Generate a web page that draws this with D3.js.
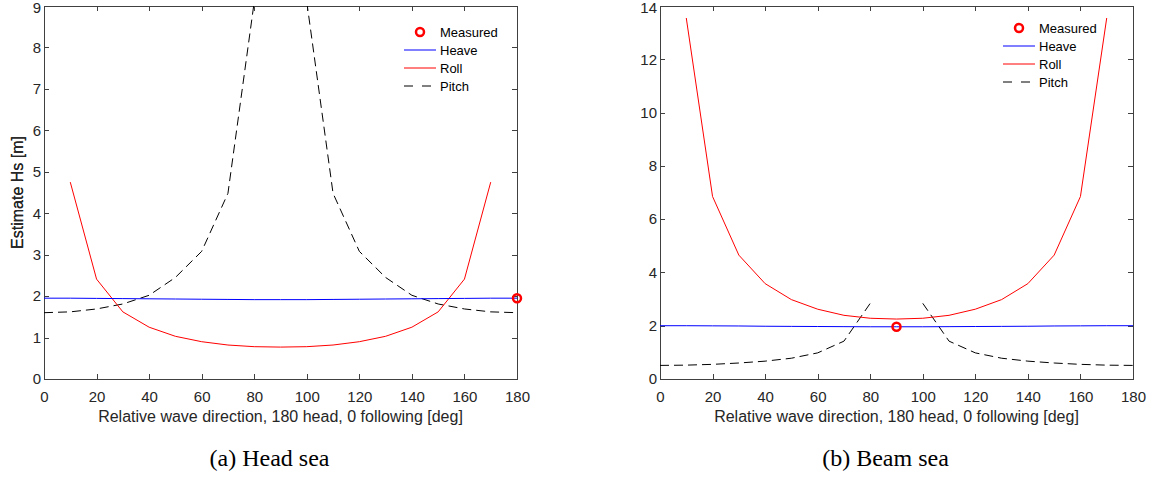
<!DOCTYPE html>
<meta charset="utf-8">
<style type="text/css">
body { margin: 0; background: #fff; }
.axis text { font-family: "Liberation Sans", Arial, sans-serif; font-size: 15px; fill: #262626; }
.axis path, .axis line { stroke: #404040; stroke-width: 1px; shape-rendering: crispEdges; }
.line { fill: none; stroke-width: 1px; }
.legend text { font-family: "Liberation Sans", Arial, sans-serif; font-size: 13px; fill: #000; }
.label { font-family: "Liberation Sans", Arial, sans-serif; font-size: 16px; fill: #262626; }
.caption { font-family: "Liberation Serif", "Times New Roman", serif; font-size: 24px; fill: #000; }
</style>
<body>
</body>
<script src="https://cdn.jsdelivr.net/npm/d3@7"></script>
<script>

// wave direction [deg]
var directions = [0, 10, 20, 30, 40, 50, 60, 70, 80, 90, 100, 110, 120, 130, 140, 150, 160, 170, 180];
var seriesNames = ["Measured", "Heave", "Roll", "Pitch"];

// (a) head sea
var headHeave = [1.95, 1.95, 1.945, 1.94, 1.935, 1.93, 1.925, 1.92, 1.915, 1.915, 1.915, 1.92, 1.925, 1.93, 1.935, 1.94, 1.945, 1.95, 1.95];
var headRoll  = [null, 4.75, 2.41, 1.62, 1.25, 1.03, 0.9, 0.82, 0.78, 0.77, 0.78, 0.82, 0.9, 1.03, 1.25, 1.62, 2.41, 4.75, null];
var headPitch = [1.6, 1.62, 1.69, 1.81, 2.02, 2.45, 3.08, 4.48, 9.1, null, 9.1, 4.48, 3.08, 2.45, 2.02, 1.81, 1.69, 1.62, 1.6];
var headMeasured = [{dir: 180, hs: 1.95}];
var headYTicks = [0, 1, 2, 3, 4, 5, 6, 7, 8, 9];

// (b) beam sea
var beamHeave = [2.0, 2.0, 1.995, 1.99, 1.98, 1.975, 1.97, 1.965, 1.96, 1.96, 1.96, 1.965, 1.97, 1.975, 1.98, 1.99, 1.995, 2.0, 2.0];
var beamRoll  = [null, 13.55, 6.85, 4.65, 3.58, 2.98, 2.62, 2.39, 2.28, 2.25, 2.28, 2.39, 2.62, 2.98, 3.58, 4.65, 6.85, 13.55, null];
var beamPitch = [0.51, 0.52, 0.55, 0.6, 0.67, 0.78, 0.98, 1.42, 2.84, null, 2.84, 1.42, 0.98, 0.78, 0.67, 0.6, 0.55, 0.52, 0.51];
var beamMeasured = [{dir: 90, hs: 1.96}];
var beamYTicks = [0, 2, 4, 6, 8, 10, 12, 14];

var xTicks = [0, 20, 40, 60, 80, 100, 120, 140, 160, 180];

var W = 1153, H = 478;
var width = 473, height = 373;

var svg = d3.select("body")
    .append("svg")
    .attr("width", W)
    .attr("height", H);

function drawPanel(id, left, top, yMax, yTicks, heave, roll, pitch, measured, legendPos, caption)
{
    var g = svg.append("g")
        .attr("transform", "translate(" + left + "," + top + ")");

    var x = d3.scaleLinear().domain([0, 180]).range([0, width]);
    var y = d3.scaleLinear().domain([0, yMax]).range([height, 0]);

    g.append("clipPath").attr("id", "clip" + id)
        .append("rect").attr("width", width).attr("height", height);

    // axes, ticks pointing inside like matlab
    g.append("g").attr("class", "axis")
        .attr("transform", "translate(0," + height + ")")
        .call(d3.axisBottom(x).tickValues(xTicks).tickSize(-5).tickSizeOuter(0).tickPadding(12));
    g.append("g").attr("class", "axis")
        .call(d3.axisTop(x).tickValues(xTicks).tickSize(-5).tickSizeOuter(0).tickFormat(""));
    g.append("g").attr("class", "axis")
        .call(d3.axisLeft(y).tickValues(yTicks).tickSize(-5).tickSizeOuter(0).tickPadding(3));
    g.append("g").attr("class", "axis")
        .attr("transform", "translate(" + width + ",0)")
        .call(d3.axisRight(y).tickValues(yTicks).tickSize(-5).tickSizeOuter(0).tickFormat(""));

    // keep the top tick label inside the picture
    g.selectAll(".axis .tick text").filter(function(d) { return d == yMax; }).attr("dy", "0.45em");

    var line = d3.line()
        .defined(function(d) { return d[1] != null; })
        .x(function(d) { return x(d[0]); })
        .y(function(d) { return y(d[1]); });

    function pairs(vals) {
        return directions.map(function(d, i) { return [d, vals[i]]; });
    }

    var plot = g.append("g").attr("clip-path", "url(#clip" + id + ")");

    plot.append("path").datum(pairs(pitch))
        .attr("class", "line").attr("d", line)
        .style("stroke", "#000").style("stroke-dasharray", "9,5");
    plot.append("path").datum(pairs(roll))
        .attr("class", "line").attr("d", line)
        .style("stroke", "#ff0000");
    plot.append("path").datum(pairs(heave))
        .attr("class", "line").attr("d", line)
        .style("stroke", "#0000ff");

    g.selectAll(".meas").data(measured)
        .enter().append("circle")
        .attr("class", "meas")
        .attr("cx", function(d) { return x(d.dir); })
        .attr("cy", function(d) { return y(d.hs); })
        .attr("r", 4)
        .style("fill", "none").style("stroke", "#ff0000").style("stroke-width", 2.5);

    // labels
    g.append("text").attr("class", "label")
        .attr("x", width / 2).attr("y", height + 43)
        .attr("text-anchor", "middle")
        .text("Relative wave direction, 180 head, 0 following [deg]");
    g.append("text").attr("class", "label")
        .attr("transform", "translate(" + (-left + 23) + "," + (height / 2) + ") rotate(-90)")
        .attr("text-anchor", "middle")
        .text("Estimate Hs [m]");
    svg.append("text").attr("class", "caption")
        .attr("x", left + width / 2 - 11).attr("y", 466)
        .attr("text-anchor", "middle")
        .text(caption);

    // legend
    var lg = svg.selectAll(".legend" + id).data(seriesNames)
        .enter().append("g")
        .attr("class", "legend legend" + id)
        .attr("transform", function(d, i) {
            return "translate(" + legendPos[0] + "," + (legendPos[1] + i * 18) + ")";
        });
    lg.append("text").text(function(d) { return d; })
        .attr("x", 36).attr("dy", "0.35em");
    lg.filter(function(d) { return d == "Measured"; })
        .append("circle")
        .attr("cx", 16).attr("r", 4)
        .style("fill", "none").style("stroke", "#ff0000").style("stroke-width", 2.5);
    lg.filter(function(d) { return d != "Measured"; })
        .append("line")
        .attr("x1", 0).attr("x2", 32)
        .style("stroke", function(d) { return d == "Heave" ? "#0000ff" : (d == "Roll" ? "#ff0000" : "#000"); })
        .style("stroke-dasharray", function(d) { return d == "Pitch" ? "9,9" : null; });
}

drawPanel("a", 44, 6, 9, headYTicks, headHeave, headRoll, headPitch, headMeasured, [404, 32], "(a) Head sea");
drawPanel("b", 660, 6, 14, beamYTicks, beamHeave, beamRoll, beamPitch, beamMeasured, [1003, 28], "(b) Beam sea");

</script>
